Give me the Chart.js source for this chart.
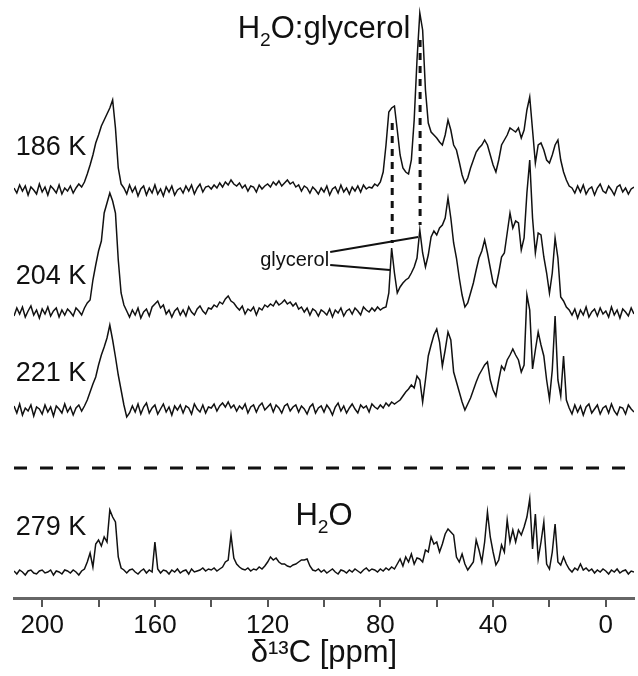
<!DOCTYPE html>
<html lang="en">
<head>
    <meta charset="UTF-8">
    <title>13C NMR spectra H2O:glycerol</title>
    <script src="https://cdn.jsdelivr.net/npm/chart.js"></script>
    <style>
        body { margin: 0; background: #fff; }
        #wrap { width: 638px; height: 676px; }
    </style>
</head>
<body>
<div id="wrap"><canvas id="nmrChart" width="638" height="676"></canvas></div>

<script>
    // chemical shift grid, 210 ppm down to -10 ppm in 1 ppm steps
    const ppm = [];
    for (let v = 210; v >= -10; v--) ppm.push(v);

    // axis ticks (every 20 ppm, labelled every 40 ppm)
    const tickValues = [0, 20, 40, 60, 80, 100, 120, 140, 160, 180, 200];
    const tickLabels = ['0', '', '40', '', '80', '', '120', '', '160', '', '200'];

    // intensities (relative to each trace's own baseline)
    const s186 = [
        2, -3, 5, -1, 4, -5, 3, 0, -4, 6,
        -2, 3, -5, 4, 1, -3, 5, -4, 2, -1,
        4, -3, 2, 6, 3, 8, 16, 25, 35, 47,
        55, 64, 70, 76, 82, 90, 62, 22, 6, 2,
        -4, 5, -2, 3, -6, 1, 4, -5, 2, -3,
        5, -4, 1, -6, 3, -2, 4, -5, 0, 2,
        -3, 4, -1, 5, -4, 2, 6, -2, 3, 4,
        1, 5, 2, 7, 3, 8, 5, 10, 6, 4,
        7, 2, 5, -1, 4, 3, -2, 5, 1, 4,
        6, 3, 8, 5, 9, 4, 7, 10, 6, 8,
        3, 5, -1, 4, 2, -3, 3, 0, -4, 2,
        -2, 4, -5, 1, 3, -3, 5, -2, 2, -4,
        3, -1, 4, -2, 5, 1, 3, 2, 6, 4,
        8, 18, 45, 78, 82, 84, 60, 35, 22, 18,
        16, 30, 70, 130, 177, 160, 100, 67, 58, 55,
        52, 48, 45, 55, 70, 60, 45, 40, 28, 15,
        7, 12, 22, 30, 38, 42, 45, 50, 45, 35,
        25, 18, 30, 45, 50, 55, 62, 60, 58, 62,
        52, 60, 80, 93, 60, 27, 45, 47, 40, 30,
        27, 35, 45, 50, 30, 18, 10, 4, 2, -3,
        4, -2, 5, -4, 1, 3, -5, 2, 6, -1,
        -3, 4, 0, -5, 3, 5, -2, 2, -4, 1,
        3
    ];
    const s204 = [
        -3, 5, -1, 6, -4, 2, 7, -2, 3, -5,
        4, -1, 6, -3, 2, 5, -4, 3, -2, 4,
        1, -3, 5, 2, -2, 5, 10, 13, 33, 48,
        62, 72, 100, 110, 120, 112, 100, 53, 20, 8,
        2, -4, 3, -2, 5, -5, 1, 4, -3, 6,
        9, 12, 5, 8, -1, 3, -4, 2, 5, -2,
        3, -3, 6, 1, -2, 4, 7, 2, -1, 5,
        4, 8, 6, 11, 9, 14, 17, 12, 10, 6,
        3, 7, -1, 4, 2, 6, -2, 5, 3, 8,
        6, 9, 7, 12, 8, 10, 13, 9, 11, 7,
        10, 4, 6, 1, 5, -2, 4, 2, -3, 3,
        1, -2, 4, -4, 3, 0, 5, -3, 2, 4,
        -1, 5, 2, -2, 6, 3, 1, 5, 2, 6,
        3, 5, 6, 20, 65, 40, 20, 26, 30, 33,
        35, 40, 46, 55, 83, 60, 46, 58, 76, 82,
        78, 85, 88, 95, 115, 95, 70, 55, 35, 18,
        6, 10, 20, 30, 43, 55, 62, 73, 60, 45,
        30, 26, 40, 56, 60, 80, 100, 85, 92, 90,
        63, 75, 120, 153, 95, 60, 80, 78, 56, 40,
        20, 40, 75, 55, 16, 12, 6, 3, -2, 4,
        -5, 3, -2, 6, -4, 1, 4, -3, 5, -1,
        2, -4, 6, -2, 3, -5, 4, 1, -3, 5,
        -1
    ];
    const s221 = [
        4, -3, 6, -5, 2, -1, 5, -6, 3, 1,
        -4, 5, -2, 3, -6, 4, 1, -3, 6, -2,
        3, -5, 2, 5, -1, 4, 10, 18, 26, 33,
        45, 55, 63, 72, 85, 70, 53, 35, 20, 5,
        -7, -3, 4, -2, 6, -4, 3, 7, -3, 2,
        5, -4, 1, 6, -2, 3, -5, 4, 0, 5,
        -3, 4, 2, -4, 6, 1, -2, 5, -3, 3,
        2, 6, -1, 4, 7, 3, 8, 2, 5, -1,
        4, 1, 6, -3, 3, 5, -2, 4, 7, 0,
        3, 6, -2, 5, 2, -3, 4, 6, -1, 3,
        5, -2, 4, 1, -4, 3, 6, -3, 2, 4,
        -2, 5, 1, -5, 3, 7, -1, 4, -3, 2,
        6, 1, -3, 5, 2, 4, -2, 6, 3, 1,
        5, 2, 7, 4, 8, 6, 8, 10, 14, 18,
        21, 25, 22, 34, 30, 8, 30, 54, 65, 75,
        81, 68, 44, 60, 78, 70, 38, 28, 18, 8,
        0, 6, 12, 20, 28, 35, 40, 45, 48, 30,
        20, 14, 30, 44, 40, 50, 55, 61, 55, 50,
        38, 45, 115, 100, 41, 60, 78, 65, 54, 30,
        11, 40, 94, 30, 14, 54, 10, 2, -4, 5,
        -2, 4, -5, 3, 6, -3, 1, 5, -4, 2,
        4, -3, 6, -1, -5, 3, 2, -4, 5, 1,
        -2
    ];
    const s279 = [
        1, -2, 2, 0, -3, 1, 2, -1, -2, 1,
        2, -1, 0, 2, -3, 1, 0, -2, 2, 1,
        -1, 2, 0, -3, 1, 3, 10, 19, 5, 28,
        32, 26, 35, 30, 62, 55, 50, 15, 4, 2,
        -1, 2, 3, 0, -2, 1, 3, -1, 2, 0,
        30, 3, -1, 2, 1, -2, 2, 0, 3, -1,
        1, 2, -2, 3, 0, 1, 2, 4, 1, 3,
        2, 4, 1, 3, 5, 10, 12, 37, 14, 8,
        5, 3, 2, 4, 1, 3, 2, 5, 3, 6,
        10, 15, 12, 14, 10, 8, 8, 6, 5, 7,
        8, 10, 12, 12, 13, 6, 2, 1, 3, 0,
        2, -1, 1, 3, 0, -2, 2, 1, -1, 2,
        0, 3, 1, -1, 2, 4, 1, 3, 2, 0,
        3, 1, 4, 2, 5, 3, 8, 13, 6, 15,
        10, 18, 8, 14, 13, 10, 22, 20, 35, 28,
        30, 20, 28, 38, 43, 40, 37, 15, 10, 18,
        8, 2, 6, 10, 32, 22, 10, 30, 60, 35,
        20, 7, 12, 27, 20, 52, 30, 42, 30, 42,
        37, 45, 55, 73, 23, 58, 13, 30, 50, 8,
        3, 20, 48, 10, 7, 15, 8, 3, 0, 4,
        2, 8, 2, 4, 1, 3, -1, 2, 0, 3,
        1, -2, 2, 0, 3, -1, 1, 2, -2, 1,
        0
    ];

    const temps = ['186 K', '204 K', '221 K', '279 K'];
    const spectra = [s186, s204, s221, s279];
    // vertical stacking offsets of the traces
    const baselines = [408, 285, 188, 26];
    const labelLift = [42, 36, 36, 44];

    const FONT = "'Liberation Sans', Arial, Helvetica, sans-serif";

    // text with subscript parts: [text, isSub]
    function drawParts(ctx, parts, cx, cy, size) {
        const sub = size * 0.62;
        let w = 0;
        parts.forEach(p => {
            ctx.font = (p[1] ? sub : size) + 'px ' + FONT;
            w += ctx.measureText(p[0]).width;
        });
        let x = cx - w / 2;
        ctx.textAlign = 'left';
        ctx.textBaseline = 'middle';
        parts.forEach(p => {
            ctx.font = (p[1] ? sub : size) + 'px ' + FONT;
            ctx.fillText(p[0], x, p[1] ? cy + size * 0.38 : cy);
            x += ctx.measureText(p[0]).width;
        });
    }

    const overlay = {
        id: 'overlay',
        afterDatasetsDraw(chart) {
            const {ctx, chartArea, scales: {x, y}} = chart;
            ctx.save();
            ctx.fillStyle = '#111';
            ctx.strokeStyle = '#111';

            // temperature labels
            ctx.font = '27px ' + FONT;
            ctx.textAlign = 'left';
            ctx.textBaseline = 'middle';
            temps.forEach((t, i) => {
                ctx.fillText(t, x.getPixelForValue(209.4), y.getPixelForValue(baselines[i] + labelLift[i]));
            });

            // sample titles
            drawParts(ctx, [['H', 0], ['2', 1], ['O:glycerol', 0]], x.getPixelForValue(100), y.getPixelForValue(569), 31);
            drawParts(ctx, [['H', 0], ['2', 1], ['O', 0]], x.getPixelForValue(100), y.getPixelForValue(82), 31);

            // separator between glycerol and water spectra
            ctx.lineWidth = 3;
            ctx.setLineDash([13, 13]);
            ctx.beginPath();
            ctx.moveTo(chartArea.left, y.getPixelForValue(130));
            ctx.lineTo(chartArea.right, y.getPixelForValue(130));
            ctx.stroke();

            // glycerol peak guides
            ctx.lineWidth = 3;
            ctx.setLineDash([7, 6]);
            [[75.8, 475, 355], [65.9, 558, 373]].forEach(g => {
                ctx.beginPath();
                ctx.moveTo(x.getPixelForValue(g[0]), y.getPixelForValue(g[1]));
                ctx.lineTo(x.getPixelForValue(g[0]), y.getPixelForValue(g[2]));
                ctx.stroke();
            });

            // glycerol annotation
            ctx.setLineDash([]);
            ctx.lineWidth = 2;
            ctx.beginPath();
            ctx.moveTo(x.getPixelForValue(97.8), y.getPixelForValue(346));
            ctx.lineTo(x.getPixelForValue(66.6), y.getPixelForValue(361));
            ctx.moveTo(x.getPixelForValue(97.8), y.getPixelForValue(333));
            ctx.lineTo(x.getPixelForValue(76.6), y.getPixelForValue(328));
            ctx.stroke();
            ctx.font = '20px ' + FONT;
            ctx.textAlign = 'right';
            ctx.textBaseline = 'middle';
            ctx.fillText('glycerol', x.getPixelForValue(98.2), y.getPixelForValue(338));
            ctx.restore();
        }
    };

    const ctx = document.getElementById('nmrChart').getContext('2d');
    const nmrChart = new Chart(ctx, {
        type: 'line',
        data: {
            datasets: spectra.map((s, i) => ({
                label: temps[i],
                data: ppm.map((p, j) => ({x: p, y: baselines[i] + s[j]})),
                borderColor: '#111',
                borderWidth: 1.5,
                pointRadius: 0,
                tension: 0,
                fill: false
            }))
        },
        options: {
            responsive: false,
            animation: false,
            layout: { padding: { left: 14, right: 4, top: 0, bottom: 0 } },
            plugins: { legend: { display: false }, tooltip: { enabled: false } },
            scales: {
                x: {
                    type: 'linear',
                    reverse: true,
                    min: -10,
                    max: 210,
                    afterBuildTicks: (scale) => { scale.ticks = tickValues.map(v => ({value: v})); },
                    afterFit: (scale) => { scale.height = 78; },
                    border: { display: true, color: '#666', width: 3 },
                    grid: { drawOnChartArea: false, drawTicks: true, tickLength: 9, color: '#555', lineWidth: 2 },
                    ticks: {
                        autoSkip: false,
                        maxRotation: 0,
                        padding: 3,
                        color: '#111',
                        font: { family: FONT, size: 26 },
                        callback: (v) => tickLabels[tickValues.indexOf(v)]
                    },
                    title: {
                        display: true,
                        text: 'δ¹³C [ppm]',
                        color: '#111',
                        font: { family: FONT, size: 31 },
                        padding: { top: 0, bottom: 4 }
                    }
                },
                y: { display: false, min: 0, max: 598 }
            }
        },
        plugins: [overlay]
    });
</script>
</body>
</html>
